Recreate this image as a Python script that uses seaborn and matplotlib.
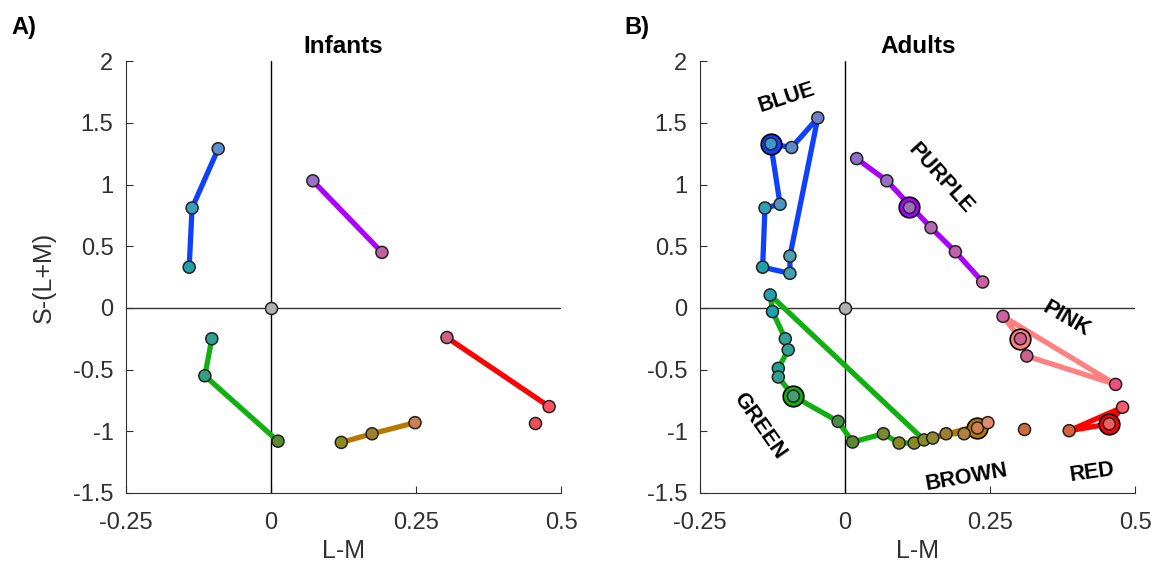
import seaborn as sns
import matplotlib.pyplot as plt
import pandas as pd

sns.set_style("ticks")
plt.rcParams['font.family'] = ['Liberation Sans', 'DejaVu Sans']
plt.rcParams['text.color'] = 'black'

# ---------- data (L-M, S-(L+M)) ----------
# Infants
inf_blue_x = [-0.091, -0.136, -0.141]
inf_blue_y = [1.29, 0.81, 0.33]
inf_blue_c = ['#5b8fd0', '#3a9ec0', '#20a0a8']

inf_purple_x = [0.072, 0.191]
inf_purple_y = [1.03, 0.45]
inf_purple_c = ['#9a70c8', '#c060a0']

inf_green_x = [-0.102, -0.114, 0.012]
inf_green_y = [-0.25, -0.55, -1.08]
inf_green_c = ['#30a090', '#30a080', '#5a8a30']

inf_brown_x = [0.121, 0.174, 0.248]
inf_brown_y = [-1.09, -1.02, -0.93]
inf_brown_c = ['#8a8a20', '#a08030', '#d08050']

inf_red_x = [0.303, 0.479]
inf_red_y = [-0.24, -0.80]
inf_red_c = ['#d06080', '#ff5060']

inf_extra_x = [0.455]
inf_extra_y = [-0.93]
inf_extra_c = ['#f05050']

# Adults (loops; first point is the focal one)
ad_blue_x = [-0.128, -0.092, -0.047, -0.095, -0.095, -0.142, -0.138, -0.112]
ad_blue_y = [1.33, 1.30, 1.54, 0.42, 0.28, 0.33, 0.81, 0.84]
ad_blue_c = ['#3a9ad0', '#5a8ad0', '#7080c8', '#50a0b0', '#40a0b0', '#20a0a8', '#30a0b8', '#4a98c0']

ad_purple_x = [0.110, 0.020, 0.072, 0.148, 0.190, 0.237]
ad_purple_y = [0.815, 1.21, 1.03, 0.65, 0.455, 0.21]
ad_purple_c = ['#a070b8', '#8c70c8', '#9870c0', '#b068b0', '#c060a8', '#c860a0']

ad_green_x = [-0.089, -0.012, 0.013, 0.066, 0.093, 0.119, 0.136,
              -0.129, -0.125, -0.103, -0.098, -0.115, -0.115]
ad_green_y = [-0.715, -0.92, -1.087, -1.02, -1.095, -1.095, -1.07,
              0.105, -0.03, -0.25, -0.34, -0.49, -0.56]
ad_green_c = ['#40a070', '#4a8a4a', '#5a8a30', '#7a8a30', '#888a20', '#8a8a20', '#8a8a28',
              '#20a0b0', '#20a0b0', '#30a098', '#30a090', '#20a090', '#30a088']

ad_brown_x = [0.228, 0.246, 0.151, 0.174, 0.205]
ad_brown_y = [-0.973, -0.93, -1.055, -1.02, -1.02]
ad_brown_c = ['#d08050', '#e08a70', '#908a30', '#a08030', '#b08040']

ad_pink_x = [0.302, 0.313, 0.466, 0.272]
ad_pink_y = [-0.25, -0.39, -0.62, -0.068]
ad_pink_c = ['#d06090', '#d06090', '#f05080', '#d060a0']

ad_red_x = [0.455, 0.478, 0.386]
ad_red_y = [-0.94, -0.805, -0.995]
ad_red_c = ['#f06060', '#f85a6a', '#d86040']

ad_extra_x = [0.309]
ad_extra_y = [-0.98]
ad_extra_c = ['#d06a40']

line_colors = {'blue': '#1040ff', 'purple': '#aa00ff', 'green': '#10b010',
               'brown': '#b87800', 'red': '#ff0000', 'pink': '#ff8080'}

labels = [('BLUE', -0.10, 1.70, 18), ('PURPLE', 0.164, 1.05, -48),
          ('PINK', 0.381, -0.09, -30), ('GREEN', -0.147, -0.96, -55),
          ('BROWN', 0.21, -1.37, 10), ('RED', 0.426, -1.33, 8)]

fig = plt.figure(figsize=(11.55, 5.66), dpi=100)
ax1 = fig.add_axes([0.109, 0.129, 0.377, 0.763])
ax2 = fig.add_axes([0.606, 0.129, 0.377, 0.763])


def draw_points(ax, xs, ys, cols, focal=None):
    df = pd.DataFrame({'x': xs, 'y': ys, 'k': range(len(xs))})
    if focal is not None:
        sns.scatterplot(x=[xs[0]], y=[ys[0]], color=focal, s=220, edgecolor='black',
                        linewidth=1.2, ax=ax, zorder=4, legend=False)
    sns.scatterplot(data=df, x='x', y='y', hue='k', palette=cols, s=75,
                    edgecolor='#222222', linewidth=1.1, ax=ax, zorder=5, legend=False)


def draw_group(ax, xs, ys, cols, lc, closed=False, focal=False):
    lx, ly = list(xs), list(ys)
    if closed:
        lx, ly = lx + [xs[0]], ly + [ys[0]]
    sns.lineplot(x=lx, y=ly, sort=False, estimator=None, color=lc, linewidth=3.8,
                 ax=ax, zorder=3)
    draw_points(ax, xs, ys, cols, focal=lc if focal else None)


for ax in (ax1, ax2):
    ax.axhline(0, color='#333333', linewidth=1, zorder=1)
    ax.axvline(0, color='black', linewidth=1, zorder=1)

draw_group(ax1, inf_blue_x, inf_blue_y, inf_blue_c, line_colors['blue'])
draw_group(ax1, inf_purple_x, inf_purple_y, inf_purple_c, line_colors['purple'])
draw_group(ax1, inf_green_x, inf_green_y, inf_green_c, line_colors['green'])
draw_group(ax1, inf_brown_x, inf_brown_y, inf_brown_c, line_colors['brown'])
draw_group(ax1, inf_red_x, inf_red_y, inf_red_c, line_colors['red'])
draw_points(ax1, inf_extra_x, inf_extra_y, inf_extra_c)
draw_points(ax1, [0], [0], ['#b0b0b0'])

draw_group(ax2, ad_blue_x, ad_blue_y, ad_blue_c, line_colors['blue'], closed=True, focal=True)
draw_group(ax2, ad_purple_x[1:], ad_purple_y[1:], ad_purple_c[1:], line_colors['purple'])
draw_points(ax2, ad_purple_x[:1], ad_purple_y[:1], ad_purple_c[:1], focal=line_colors['purple'])
draw_group(ax2, ad_green_x, ad_green_y, ad_green_c, line_colors['green'], closed=True, focal=True)
draw_group(ax2, ad_brown_x, ad_brown_y, ad_brown_c, line_colors['brown'], closed=True, focal=True)
draw_group(ax2, ad_pink_x, ad_pink_y, ad_pink_c, line_colors['pink'], closed=True, focal=True)
draw_group(ax2, ad_red_x, ad_red_y, ad_red_c, line_colors['red'], closed=True, focal=True)
draw_points(ax2, ad_extra_x, ad_extra_y, ad_extra_c)
draw_points(ax2, [0], [0], ['#b0b0b0'])

for txt, x, y, rot in labels:
    ax2.text(x, y, txt, rotation=rot, ha='center', va='center', fontsize=15.5,
             fontweight='bold', color='black', rotation_mode='anchor')

for ax, title in ((ax1, 'Infants'), (ax2, 'Adults')):
    ax.set_xlim(-0.25, 0.5)
    ax.set_ylim(-1.5, 2)
    ax.set_xticks([-0.25, 0, 0.25, 0.5])
    ax.set_xticklabels(['-0.25', '0', '0.25', '0.5'])
    ax.set_yticks([-1.5, -1, -0.5, 0, 0.5, 1, 1.5, 2])
    ax.set_yticklabels(['-1.5', '-1', '-0.5', '0', '0.5', '1', '1.5', '2'])
    ax.tick_params(direction='in', labelsize=17, colors='#303030', length=5)
    ax.tick_params(axis='x', pad=14)
    ax.tick_params(axis='y', pad=9)
    ax.set_title(title, fontsize=17.5, fontweight='bold', color='black', pad=6)
    ax.set_xlabel('L-M', fontsize=18, color='#303030', labelpad=3)
    ax.set_ylabel('S-(L+M)' if ax is ax1 else '', fontsize=18, color='#303030', labelpad=12)
    for side in ('top', 'right'):
        ax.spines[side].set_visible(False)
    for side in ('left', 'bottom'):
        ax.spines[side].set_color('#303030')

fig.text(0.010, 0.94, 'A)', fontsize=17, fontweight='bold', color='black')
fig.text(0.541, 0.94, 'B)', fontsize=17, fontweight='bold', color='black')

fig.savefig('out.png', dpi=100)
